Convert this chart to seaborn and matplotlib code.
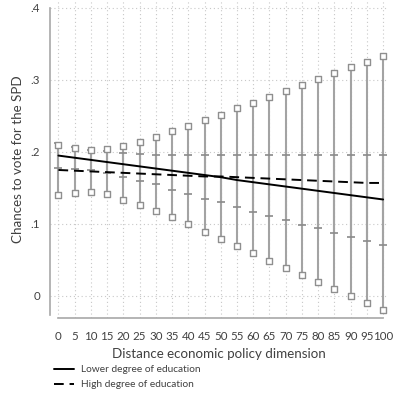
"""Predicted chances to vote for the SPD by economic policy distance."""
import numpy as np
import pandas as pd
import seaborn as sns
import matplotlib.pyplot as plt

# distance on the economic policy dimension
distance = [0, 5, 10, 15, 20, 25, 30, 35, 40, 45, 50,
            55, 60, 65, 70, 75, 80, 85, 90, 95, 100]

# lower degree of education (solid line, narrow CI with caps)
low_pred = [0.195, 0.192, 0.189, 0.186, 0.183, 0.180, 0.177, 0.174, 0.171, 0.168, 0.165,
            0.161, 0.158, 0.155, 0.152, 0.149, 0.146, 0.143, 0.140, 0.137, 0.134]
low_upper = [0.212, 0.207, 0.203, 0.201, 0.198, 0.197, 0.196, 0.196, 0.196, 0.196, 0.196,
             0.196, 0.196, 0.196, 0.196, 0.196, 0.196, 0.196, 0.196, 0.196, 0.196]
low_lower = [0.178, 0.177, 0.175, 0.171, 0.165, 0.160, 0.155, 0.147, 0.142, 0.135, 0.130,
             0.123, 0.117, 0.111, 0.105, 0.099, 0.094, 0.088, 0.082, 0.077, 0.071]

# high degree of education (dashed line, wide CI with squares)
high_pred = [0.175, 0.174, 0.173, 0.172, 0.171, 0.170, 0.169, 0.168, 0.167, 0.166, 0.166,
             0.165, 0.164, 0.163, 0.162, 0.161, 0.160, 0.159, 0.158, 0.157, 0.157]
high_upper = [0.210, 0.205, 0.203, 0.204, 0.208, 0.214, 0.221, 0.229, 0.236, 0.245, 0.252,
              0.261, 0.268, 0.277, 0.285, 0.293, 0.302, 0.310, 0.318, 0.325, 0.333]
high_lower = [0.140, 0.1435, 0.144, 0.141, 0.133, 0.127, 0.118, 0.109, 0.0996, 0.089, 0.079,
              0.069, 0.059, 0.049, 0.039, 0.029, 0.019, 0.0097, 0.0, -0.010, -0.020]

groups = ["Lower degree of education", "High degree of education"]
y_ticks = [0, 0.1, 0.2, 0.3, 0.4]
y_ticklabels = ["0", ".1", ".2", ".3", ".4"]

sns.set_theme(style="white")
plt.rcParams['font.family'] = ['Lato', 'DejaVu Sans']
text_col = "#404040"
ci_col = "#a3a3a3"

df = pd.DataFrame({
    "distance": distance * 2,
    "pred": low_pred + high_pred,
    "group": [groups[0]] * len(distance) + [groups[1]] * len(distance),
})

fig = plt.figure(figsize=(3.94, 3.98), dpi=100)
ax = fig.add_axes([50 / 394, 80 / 398, 338 / 394, 318 / 398])

# grid
for x in distance:
    ax.axvline(x, color="#c8c8c8", lw=0.8, ls=(0, (1, 2.5)), zorder=0)
for y in y_ticks:
    ax.axhline(y, color="#c8c8c8", lw=0.8, ls=(0, (1, 2.5)), zorder=0)

# confidence intervals
ax.vlines(distance, high_lower, high_upper, color=ci_col, lw=1.5, zorder=1)
ax.vlines(distance, low_lower, low_upper, color=ci_col, lw=1.5, zorder=1)
ax.scatter(distance, low_lower, marker="_", s=40, color="#8a8a8a", lw=1.2, zorder=2)
ax.scatter(distance, low_upper, marker="_", s=40, color="#8a8a8a", lw=1.2, zorder=2)
ax.scatter(distance + distance, high_lower + high_upper, marker="s", s=20,
           facecolors="white", edgecolors="#8f8f8f", lw=1.0, zorder=3)

sns.lineplot(data=df, x="distance", y="pred", style="group", style_order=groups,
             dashes={groups[0]: "", groups[1]: (5, 3)}, color="black", lw=1.4,
             ax=ax, zorder=4, legend=False)

ax.set_xlim(-2.6, 101.5)
ax.set_ylim(-0.0306, 0.4111)
ax.set_xticks(distance)
ax.set_xticklabels([str(d) for d in distance])
ax.set_yticks(y_ticks)
ax.set_yticklabels(y_ticklabels)
ax.tick_params(axis="both", which="both", direction="out", length=4, width=0.9,
               color="#a0a0a0", labelsize=8.3, labelcolor=text_col, pad=3)
ax.tick_params(axis="x", pad=4, length=5)

for side in ["top", "right"]:
    ax.spines[side].set_visible(False)
ax.spines["left"].set_color("#a8a8a8")
ax.spines["left"].set_linewidth(1.2)
ax.spines["left"].set_bounds(-0.026, 0.4)
ax.spines["bottom"].set_color("#a8a8a8")
ax.spines["bottom"].set_linewidth(1.2)
ax.spines["bottom"].set_bounds(0, 100)

ax.set_xlabel("Distance economic policy dimension", fontsize=9.6, color=text_col, labelpad=5)
ax.set_ylabel("Chances to vote for the SPD", fontsize=9.6, color=text_col, labelpad=5)

# legend below the plot
handles = [plt.Line2D([], [], color="black", lw=1.4, ls="-"),
           plt.Line2D([], [], color="black", lw=1.4, ls=(0, (5, 3)))]
fig.legend(handles, groups, loc="upper left", bbox_to_anchor=(49 / 394, 1 - 360 / 398),
           frameon=False, fontsize=7.3, labelcolor=text_col, handlelength=2.0,
           handletextpad=0.7, labelspacing=0.6, borderpad=0)

fig.savefig("out.png", dpi=100)
